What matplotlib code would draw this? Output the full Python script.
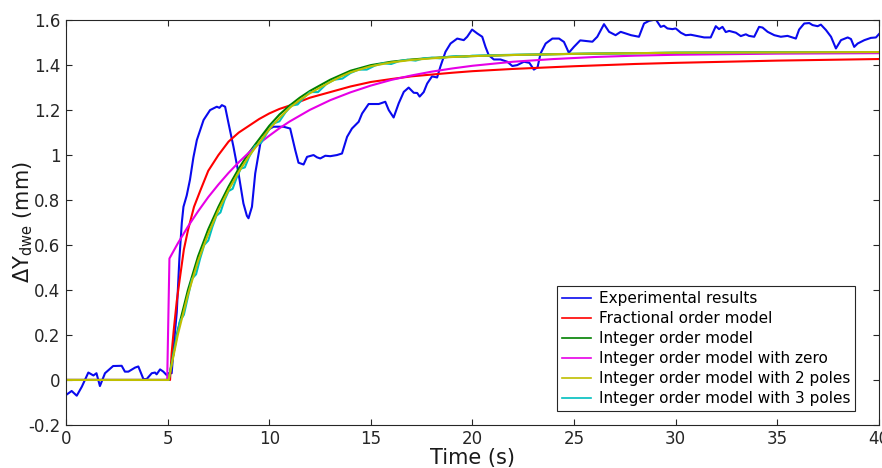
import matplotlib
matplotlib.use("Agg")
import matplotlib.pyplot as plt
from matplotlib.ticker import FuncFormatter

plt.rcParams['font.family'] = ['DejaVu Sans']
plt.rcParams['mathtext.default'] = 'regular'

t_exp = [0.0, 0.28, 0.53, 0.78, 1.1, 1.35, 1.5, 1.67, 1.92, 2.32, 2.74, 2.9, 3.07, 3.4, 3.56,
         3.81, 3.97, 4.22, 4.38, 4.46, 4.63, 4.79, 4.95, 5.04, 5.2, 5.35, 5.45, 5.58, 5.7, 5.78,
         5.94, 6.1, 6.27, 6.44, 6.77, 7.09, 7.42, 7.55, 7.67, 7.83, 8.0, 8.24, 8.49, 8.73, 8.9,
         8.98, 9.15, 9.31, 9.56, 9.89, 10.21, 10.54, 10.7, 11.03, 11.28, 11.44, 11.69, 11.86,
         12.18, 12.35, 12.51, 12.76, 13.0, 13.33, 13.58, 13.83, 14.07, 14.4, 14.57, 14.89, 15.39,
         15.71, 15.88, 16.12, 16.37, 16.62, 16.86, 17.11, 17.28, 17.4, 17.6, 17.77, 18.01, 18.26,
         18.42, 18.67, 18.92, 19.25, 19.57, 19.74, 19.98, 20.23, 20.48, 20.64, 20.8, 21.05,
         21.38, 21.71, 21.96, 22.2, 22.53, 22.8, 23.02, 23.2, 23.35, 23.6, 23.93, 24.26, 24.5,
         24.74, 24.99, 25.3, 25.9, 26.14, 26.47, 26.72, 27.04, 27.29, 27.8, 28.19, 28.44, 28.69,
         29.02, 29.26, 29.42, 29.59, 29.84, 30.0, 30.25, 30.49, 30.74, 31.07, 31.4, 31.72, 31.97,
         32.13, 32.3, 32.46, 32.63, 32.96, 33.2, 33.45, 33.6, 33.86, 34.1, 34.27, 34.52, 34.85,
         35.17, 35.5, 35.91, 36.07, 36.32, 36.57, 36.73, 36.98, 37.14, 37.39, 37.64, 37.88,
         38.13, 38.46, 38.62, 38.78, 38.95, 39.28, 39.6, 39.85, 40.0]
y_exp = [-0.067, -0.049, -0.07, -0.03, 0.033, 0.02, 0.03, -0.027, 0.03, 0.062, 0.063, 0.037,
         0.037, 0.055, 0.06, 0.004, 0.004, 0.03, 0.033, 0.025, 0.047, 0.037, 0.022, 0.03, 0.03,
         0.2, 0.3, 0.54, 0.7, 0.77, 0.82, 0.89, 0.99, 1.067, 1.156, 1.2, 1.215, 1.21, 1.222,
         1.215, 1.14, 1.037, 0.918, 0.785, 0.73, 0.719, 0.77, 0.918, 1.05, 1.11, 1.126, 1.126,
         1.126, 1.118, 1.022, 0.966, 0.958, 0.992, 1.0, 0.99, 0.985, 0.997, 0.995, 1.0, 1.007,
         1.081, 1.118, 1.148, 1.185, 1.227, 1.227, 1.237, 1.2, 1.167, 1.23, 1.281, 1.3, 1.277,
         1.276, 1.26, 1.28, 1.318, 1.35, 1.345, 1.393, 1.459, 1.496, 1.518, 1.511, 1.526, 1.558,
         1.541, 1.526, 1.481, 1.444, 1.425, 1.425, 1.415, 1.396, 1.4, 1.415, 1.41, 1.38, 1.39,
         1.452, 1.496, 1.518, 1.518, 1.503, 1.455, 1.481, 1.51, 1.504, 1.526, 1.582, 1.548,
         1.533, 1.548, 1.533, 1.526, 1.585, 1.597, 1.603, 1.57, 1.575, 1.563, 1.56, 1.563, 1.544,
         1.533, 1.535, 1.529, 1.523, 1.523, 1.573, 1.56, 1.57, 1.547, 1.552, 1.544, 1.529, 1.537,
         1.53, 1.526, 1.57, 1.567, 1.548, 1.533, 1.526, 1.53, 1.518, 1.558, 1.585, 1.587, 1.578,
         1.573, 1.58, 1.556, 1.526, 1.474, 1.511, 1.523, 1.516, 1.481, 1.496, 1.511, 1.521,
         1.523, 1.538]

# fractional order model
t_frac = [0, 5.12, 5.2, 5.3, 5.45, 5.6, 5.8, 6.0, 6.3, 6.6, 7.0, 7.5, 8.0, 8.5, 9.0, 9.5,
          10.0, 10.5, 11, 12, 13, 14, 15, 16, 17, 18, 19, 20, 22, 25, 28, 30, 35, 40]
y_frac = [0, 0, 0.12, 0.22, 0.35, 0.45, 0.58, 0.665, 0.77, 0.84, 0.93, 1.0, 1.06, 1.10,
          1.13, 1.16, 1.185, 1.205, 1.22, 1.255, 1.28, 1.305, 1.325, 1.338, 1.35, 1.358,
          1.366, 1.373, 1.383, 1.395, 1.405, 1.41, 1.42, 1.427]

# integer order model
t_int = [0, 5.05, 5.5, 6.0, 6.5, 7.0, 7.5, 8.0, 8.5, 9.0, 9.5, 10.0, 10.5, 11.0, 11.5, 12.0,
         12.5, 13.0, 13.5, 14.0, 15.0, 16.0, 17.0, 18.0, 19.0, 20.0, 22.0, 25.0, 30.0, 35.0, 40.0]
y_int = [0, 0, 0.22, 0.40, 0.55, 0.67, 0.77, 0.86, 0.94, 1.01, 1.07, 1.13, 1.18, 1.22, 1.255,
         1.285, 1.31, 1.335, 1.355, 1.375, 1.40, 1.415, 1.425, 1.432, 1.437, 1.44, 1.445,
         1.45, 1.455, 1.457, 1.458]

# integer order model with zero
t_zero = [0, 4.98, 5.09, 5.5, 6.0, 6.5, 7.0, 7.5, 8.0, 8.5, 9.0, 9.5, 10.0, 10.5, 11.0, 12.0,
          13.0, 14.0, 15.0, 16.0, 17.0, 18.0, 19.0, 20.0, 22.0, 24.0, 26.0, 28.0, 30.0, 35.0, 40.0]
y_zero = [0, 0, 0.54, 0.607, 0.682, 0.75, 0.813, 0.869, 0.921, 0.968, 1.011, 1.051, 1.086,
          1.119, 1.149, 1.201, 1.244, 1.279, 1.309, 1.334, 1.354, 1.371, 1.385, 1.397, 1.415,
          1.427, 1.436, 1.442, 1.446, 1.451, 1.453]

# integer order model with 2 poles
t_2p = [0, 5.05, 5.5, 6.0, 6.5, 7.0, 7.5, 8.0, 8.5, 9.0, 9.5, 10.0, 10.5, 11.0, 11.5, 12.0,
        12.5, 13.0, 13.5, 14.0, 15.0, 16.0, 17.0, 18.0, 19.0, 20.0, 22.0, 25.0, 30.0, 40.0]
y_2p = [0, 0, 0.2, 0.38, 0.53, 0.65, 0.755, 0.845, 0.925, 0.995, 1.055, 1.115, 1.165, 1.21,
        1.245, 1.275, 1.30, 1.325, 1.348, 1.368, 1.395, 1.412, 1.423, 1.43, 1.436, 1.44,
        1.445, 1.45, 1.455, 1.458]

# integer order model with 3 poles
t_3p = [0, 5.05, 5.4, 5.6, 5.8, 6.0, 6.2, 6.4, 6.6, 6.8, 7.0, 7.2, 7.4, 7.6, 7.8, 8.0, 8.2,
        8.4, 8.6, 8.8, 9.0, 9.3, 9.6, 9.9, 10.2, 10.5, 10.8, 11.1, 11.4, 11.7, 12.0, 12.4,
        12.8, 13.2, 13.6, 14.0, 14.4, 14.8, 15.2, 15.6, 16.0, 16.4, 16.8, 17.2, 17.6, 18.0,
        18.4, 18.8, 19.2, 19.6, 20.0, 21, 22, 23, 24, 25, 30, 35, 40]
y_3p = [0, 0, 0.17, 0.26, 0.29, 0.37, 0.45, 0.47, 0.54, 0.60, 0.62, 0.68, 0.73, 0.745, 0.80,
        0.84, 0.85, 0.90, 0.94, 0.945, 0.99, 1.04, 1.055, 1.10, 1.14, 1.15, 1.19, 1.22, 1.225,
        1.255, 1.28, 1.28, 1.315, 1.335, 1.34, 1.365, 1.38, 1.38, 1.398, 1.408, 1.405, 1.418,
        1.424, 1.42, 1.43, 1.433, 1.43, 1.437, 1.44, 1.437, 1.442, 1.444, 1.446, 1.447, 1.449,
        1.45, 1.455, 1.457, 1.458]

fig = plt.figure(figsize=(8.82, 4.68), dpi=100)
ax = fig.add_axes([0.0748, 0.092, 0.9218, 0.865])

lw = 1.5
ax.plot(t_exp, y_exp, color='#0a0aee', lw=lw, label='Experimental results')
ax.plot(t_frac, y_frac, color='#ff0000', lw=lw, label='Fractional order model')
ax.plot(t_int, y_int, color='#008000', lw=lw, label='Integer order model')
ax.plot(t_zero, y_zero, color='#e600e6', lw=lw, label='Integer order model with zero')
ax.plot(t_2p, y_2p, color='#bfbf00', lw=lw, label='Integer order model with 2 poles', zorder=2.3)
ax.plot(t_3p, y_3p, color='#00bfbf', lw=lw, label='Integer order model with 3 poles', zorder=2.2)

ax.set_xlim(0, 40)
ax.set_ylim(-0.2, 1.6)
ax.set_xticks(range(0, 41, 5))
ax.set_yticks([-0.2, 0, 0.2, 0.4, 0.6, 0.8, 1.0, 1.2, 1.4, 1.6])
ax.yaxis.set_major_formatter(FuncFormatter(lambda v, p: '%g' % round(v, 2)))
ax.tick_params(direction='in', top=True, right=True, length=4, width=0.8,
               labelsize=12, colors='#262626', pad=4)
for s in ax.spines.values():
    s.set_color('#262626')
    s.set_linewidth(0.8)

ax.set_xlabel('Time (s)', fontsize=15, color='#1a1a1a', labelpad=0)
ax.set_ylabel('ΔY$_{dwe}$ (mm)', fontsize=15, color='#1a1a1a', labelpad=-5)

leg = ax.legend(loc='lower right', bbox_to_anchor=(0.970, 0.035), fontsize=11,
                fancybox=False, framealpha=1, edgecolor='#262626', handlelength=1.9,
                handletextpad=0.5, borderpad=0.3, labelspacing=0.33, borderaxespad=0)
leg.get_frame().set_linewidth(0.8)
for h in leg.get_lines():
    h.set_linewidth(1.2)

plt.savefig('out.png', dpi=100)
